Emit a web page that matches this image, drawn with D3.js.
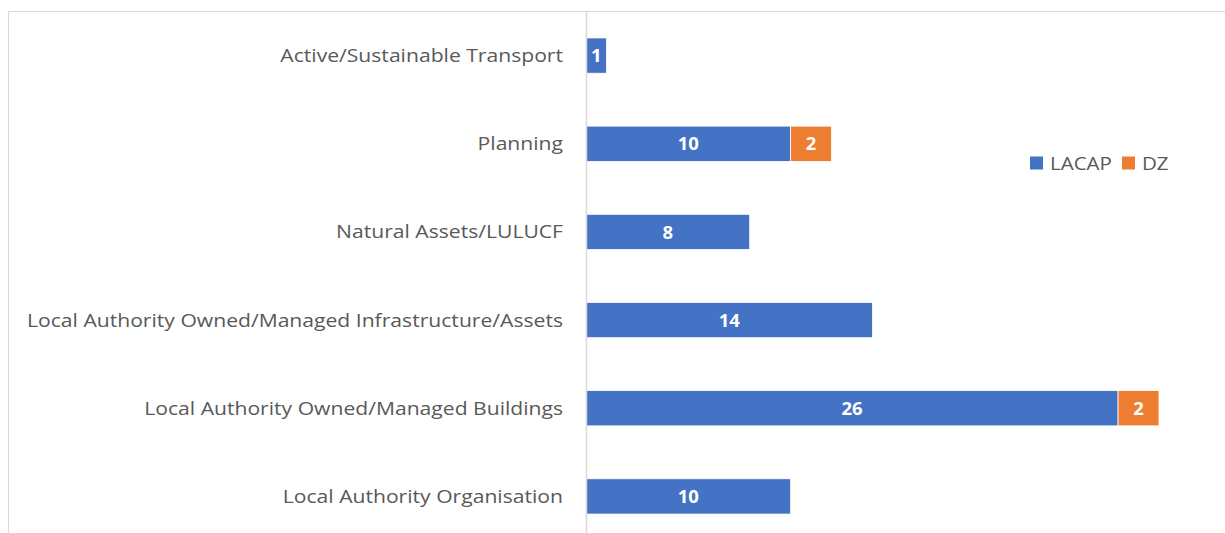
<!DOCTYPE html>
<html><head><meta charset="utf-8">
<script src="https://cdn.jsdelivr.net/npm/d3@7"></script>
<style>body{margin:0;background:#fff}svg{display:block}</style>
</head><body>
<svg id="c" width="1225" height="533"></svg>
<script>
const categories = ["Active/Sustainable Transport","Planning","Natural Assets/LULUCF","Local Authority Owned/Managed Infrastructure/Assets","Local Authority Owned/Managed Buildings","Local Authority Organisation"];
const lacap = [1,10,8,14,26,10];
const dz = [0,2,0,0,2,0];
const seriesNames = ["LACAP","DZ"];
const colors = ["#4472C4","#ED7D31"];

const svg = d3.select("#c");
const W = 1225, H = 533;
svg.append("rect").attr("x",8.5).attr("y",11.5).attr("width",W).attr("height",H)
  .attr("fill","#fff").attr("stroke","#d9d9d9");

const x0 = 586;
const x = d3.scaleLinear().domain([0,28]).range([x0, x0+573]);
const y = d3.scaleBand().domain(categories).range([11.5, 540.5]).paddingInner(0.6).paddingOuter(0.3);

const data = categories.map((c,i)=>({cat:c, LACAP:lacap[i], DZ:dz[i]}));
const stack = d3.stack().keys(seriesNames)(data);

const g = svg.append("g");
stack.forEach((s,si)=>{
  s.forEach(d=>{
    if (d[1]-d[0] <= 0) return;
    const cy = y(d.data.cat);
    g.append("rect").attr("x",x(d[0])).attr("y",cy).attr("width",x(d[1])-x(d[0])).attr("height",y.bandwidth())
      .attr("fill",colors[si]).attr("stroke","#fff").attr("stroke-width",0.8);
    g.append("text").attr("x",(x(d[0])+x(d[1]))/2).attr("y",cy+y.bandwidth()/2)
      .attr("dy","0.36em").attr("text-anchor","middle").attr("fill","#fff")
      .attr("font-family","Open Sans, sans-serif").attr("font-weight","bold").attr("font-size",18.5)
      .text(d[1]-d[0]);
  });
});

// axis
const yAxis = d3.axisLeft(y).tickSize(0).tickPadding(23);
const ax = svg.append("g").attr("transform",`translate(${x0},0)`).call(yAxis);
ax.select(".domain").remove();
ax.append("line").attr("x1",0.5).attr("x2",0.5).attr("y1",11).attr("y2",H).attr("stroke","#d9d9d9").attr("stroke-width",1.5);
const tt = ax.selectAll(".tick text").attr("fill","#595959").attr("font-family","Open Sans, sans-serif")
  .attr("font-size",19).attr("dy","0.34em");
let maxLen = 0;
tt.each(function(){ maxLen = Math.max(maxLen, this.getComputedTextLength()); });
const factor = 536 / maxLen;
tt.each(function(){
  d3.select(this).attr("textLength", this.getComputedTextLength()*factor).attr("lengthAdjust","spacingAndGlyphs");
});

// legend
const leg = svg.append("g").attr("transform","translate(1030,163)");
const lx = [0,92];
seriesNames.forEach((n,i)=>{
  leg.append("rect").attr("x",lx[i]).attr("y",-6.5).attr("width",13).attr("height",13).attr("fill",colors[i]);
  const t = leg.append("text").attr("x",lx[i]+20).attr("y",0).attr("dy","0.36em").attr("fill","#595959")
    .attr("font-family","Open Sans, sans-serif").attr("font-size",19).text(n);
  t.attr("textLength", t.node().getComputedTextLength()*factor*0.97).attr("lengthAdjust","spacingAndGlyphs");
});
</script>
</body></html>
